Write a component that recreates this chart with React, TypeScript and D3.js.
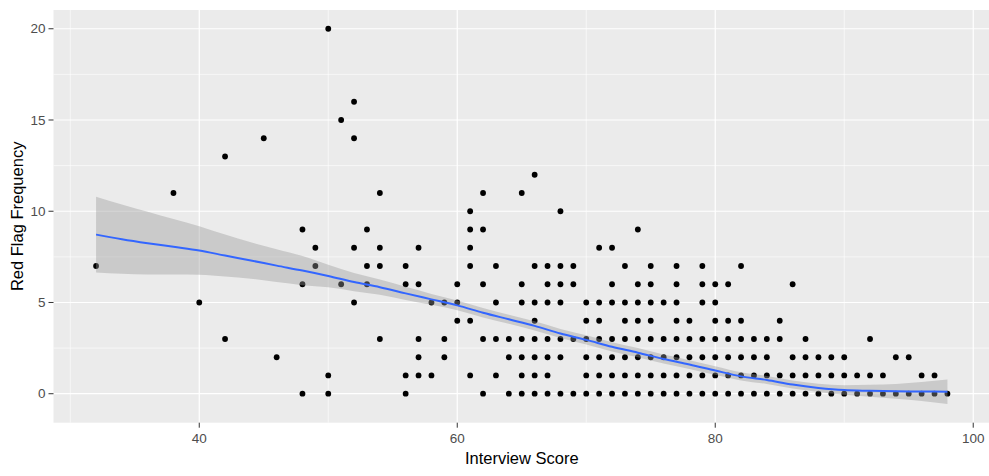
import React from "react";
import * as d3 from "d3";

// scatter points (score, red flags)
const scores = [
  32, 38, 40, 42, 42, 45, 46, 48, 48, 48, 49, 49, 50, 50, 50, 51, 51,
  52, 52, 52, 52, 53, 53, 53, 54, 54, 54, 54, 56, 56, 56, 56,
  57, 57, 57, 57, 57, 58, 58, 59, 59, 59, 60, 60, 60,
  61, 61, 61, 61, 61, 61, 62, 62, 62, 62, 62, 63, 63, 63, 63, 64, 64, 64,
  65, 65, 65, 65, 65, 65, 65, 66, 66, 66, 66, 66, 66, 66, 66,
  67, 67, 67, 67, 67, 67, 67, 68, 68, 68, 68, 68, 68, 68, 69, 69, 69, 69,
  70, 70, 70, 70, 70, 70, 71, 71, 71, 71, 71, 71, 71, 72, 72, 72, 72, 72, 72, 72,
  73, 73, 73, 73, 73, 73, 73, 74, 74, 74, 74, 74, 74, 74, 74,
  75, 75, 75, 75, 75, 75, 75, 75, 76, 76, 76, 76, 76,
  77, 77, 77, 77, 77, 77, 77, 77, 78, 78, 78, 78, 78,
  79, 79, 79, 79, 79, 79, 79, 80, 80, 80, 80, 80, 80, 80,
  81, 81, 81, 81, 81, 81, 82, 82, 82, 82, 82, 82, 83, 83, 83, 83,
  84, 84, 84, 84, 85, 85, 85, 85, 86, 86, 86, 86, 87, 87, 87, 87,
  88, 88, 88, 89, 89, 89, 90, 90, 90, 91, 91, 92, 92, 92, 93, 93,
  94, 94, 95, 95, 96, 96, 97, 97, 98,
];
const flags = [
  7, 11, 5, 13, 3, 14, 2, 9, 6, 0, 8, 7, 20, 1, 0, 15, 6,
  16, 14, 8, 5, 9, 7, 6, 11, 8, 7, 3, 7, 6, 1, 0,
  8, 6, 3, 2, 1, 5, 1, 5, 3, 2, 6, 5, 4,
  10, 9, 8, 7, 4, 1, 11, 9, 6, 3, 0, 7, 5, 3, 1, 3, 2, 0,
  11, 6, 5, 3, 2, 1, 0, 12, 7, 5, 4, 3, 2, 1, 0,
  7, 6, 5, 3, 2, 1, 0, 10, 7, 6, 5, 3, 2, 0, 7, 6, 3, 0,
  5, 4, 3, 2, 1, 0, 8, 5, 4, 3, 2, 1, 0, 8, 6, 5, 3, 2, 1, 0,
  7, 5, 4, 3, 2, 1, 0, 9, 6, 5, 4, 3, 2, 1, 0,
  7, 6, 5, 4, 3, 2, 1, 0, 5, 3, 2, 1, 0,
  7, 6, 5, 4, 3, 2, 1, 0, 4, 3, 2, 1, 0,
  7, 6, 5, 3, 2, 1, 0, 6, 5, 4, 3, 2, 1, 0,
  6, 4, 3, 2, 1, 0, 7, 4, 3, 2, 1, 0, 3, 2, 1, 0,
  3, 2, 1, 0, 4, 3, 1, 0, 6, 2, 1, 0, 3, 2, 1, 0,
  2, 1, 0, 2, 1, 0, 2, 1, 0, 1, 0, 3, 1, 0, 1, 0,
  2, 0, 2, 0, 1, 0, 1, 0, 0,
];

// loess smooth: x, fitted value, half width of band
const smoothX = [32, 34, 36, 38, 40, 42, 44, 46, 48, 50, 52, 54, 56, 58, 60, 62, 64, 66,
  68, 70, 72, 74, 76, 78, 80, 82, 84, 86, 88, 90, 92, 94, 96, 98];
const smoothFit = [8.72, 8.47, 8.25, 8.05, 7.85, 7.57, 7.3, 7.02, 6.75, 6.45, 6.12, 5.84,
  5.5, 5.17, 4.84, 4.44, 4.08, 3.72, 3.3, 2.95, 2.57, 2.25, 1.9, 1.6, 1.27, 0.95, 0.75,
  0.5, 0.32, 0.2, 0.16, 0.13, 0.12, 0.11];
const smoothSe = [2.08, 1.9, 1.72, 1.52, 1.33, 1.15, 1.0, 0.9, 0.8, 0.62, 0.5, 0.42,
  0.36, 0.3, 0.27, 0.26, 0.25, 0.25, 0.25, 0.25, 0.25, 0.25, 0.25, 0.24, 0.23, 0.22,
  0.22, 0.22, 0.22, 0.26, 0.33, 0.4, 0.52, 0.67];

const xTicks = [40, 60, 80, 100];
const xMinor = [30, 50, 70, 90];
const yTicks = [0, 5, 10, 15, 20];
const yMinor = [2.5, 7.5, 12.5, 17.5];

const W = 989;
const H = 476;
const left = 53.5;
const right = 990;
const top = 10;
const bottom = 422.7;
const font = "'Liberation Sans', Arial, sans-serif";

export default function App() {
  // ggplot style 5% expansion
  const xr = [d3.min(smoothX)!, d3.max(scores)!];
  const xPad = (xr[1] - xr[0]) * 0.05;
  const lows = smoothFit.map((f, i) => f - smoothSe[i]);
  const yr = [d3.min(lows)!, d3.max(flags)!];
  const yPad = (yr[1] - yr[0]) * 0.05;

  const x = d3.scaleLinear().domain([xr[0] - xPad, xr[1] + xPad]).range([left, right]);
  const y = d3.scaleLinear().domain([yr[0] - yPad, yr[1] + yPad]).range([bottom, top]);

  const band = d3
    .area<number>()
    .x((d, i) => x(smoothX[i]))
    .y0((d, i) => y(smoothFit[i] - smoothSe[i]))
    .y1((d, i) => y(smoothFit[i] + smoothSe[i]))
    .curve(d3.curveMonotoneX);
  const fitLine = d3
    .line<number>()
    .x((d, i) => x(smoothX[i]))
    .y((d) => y(d))
    .curve(d3.curveMonotoneX);

  return (
    <svg width={W} height={H} style={{ position: "absolute", left: 0, top: 0, background: "#fff" }}>
      <rect x={left} y={top} width={right - left} height={bottom - top} fill="#EBEBEB" />
      {/* grid */}
      {xMinor.map((t) => (
        <line key={"xm" + t} x1={x(t)} x2={x(t)} y1={top} y2={bottom} stroke="#fff" strokeWidth={0.6} />
      ))}
      {yMinor.map((t) => (
        <line key={"ym" + t} x1={left} x2={right} y1={y(t)} y2={y(t)} stroke="#fff" strokeWidth={0.6} />
      ))}
      {xTicks.map((t) => (
        <line key={"xg" + t} x1={x(t)} x2={x(t)} y1={top} y2={bottom} stroke="#fff" strokeWidth={1.2} />
      ))}
      {yTicks.map((t) => (
        <line key={"yg" + t} x1={left} x2={right} y1={y(t)} y2={y(t)} stroke="#fff" strokeWidth={1.2} />
      ))}

      {/* points */}
      {scores.map((s, i) => (
        <circle key={i} cx={x(s)} cy={y(flags[i])} r={2.9} fill="#000" />
      ))}

      {/* smooth */}
      <path d={band(smoothFit) || ""} fill="#999999" fillOpacity={0.4} />
      <path d={fitLine(smoothFit) || ""} fill="none" stroke="#3366FF" strokeWidth={2} />

      {/* axes */}
      {yTicks.map((t) => (
        <g key={"yt" + t}>
          <line x1={left - 5} x2={left} y1={y(t)} y2={y(t)} stroke="#333" strokeWidth={1} />
          <text x={left - 8} y={y(t)} dy="0.35em" textAnchor="end" fontFamily={font} fontSize={13.5} fill="#4D4D4D">
            {t}
          </text>
        </g>
      ))}
      {xTicks.map((t) => (
        <g key={"xt" + t}>
          <line x1={x(t)} x2={x(t)} y1={bottom} y2={bottom + 5} stroke="#333" strokeWidth={1} />
          <text x={x(t)} y={443} textAnchor="middle" fontFamily={font} fontSize={13.5} fill="#4D4D4D">
            {t}
          </text>
        </g>
      ))}
      <text x={(left + right) / 2} y={464} textAnchor="middle" fontFamily={font} fontSize={16.5} fill="#000">
        Interview Score
      </text>
      <text
        transform={`translate(17,${(top + bottom) / 2}) rotate(-90)`}
        dy="0.35em"
        textAnchor="middle"
        fontFamily={font}
        fontSize={16.5}
        fill="#000"
      >
        Red Flag Frequency
      </text>
    </svg>
  );
}
